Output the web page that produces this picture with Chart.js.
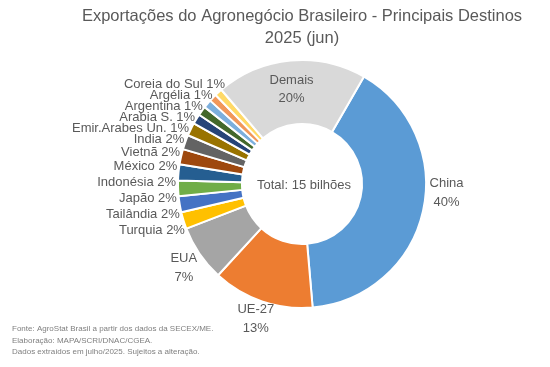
<!DOCTYPE html>
<html>
<head>
<meta charset="utf-8">
<script src="https://cdn.jsdelivr.net/npm/chart.js@4"></script>
<style>
  html, body { margin: 0; padding: 0; background: #fff; }
  #wrap { position: relative; width: 550px; height: 367px; }
</style>
</head>
<body>
<div id="wrap"><canvas id="myChart"></canvas></div>
<script>
// Participação (%) nas exportações, junho/2025
const destinos = ['China', 'UE-27', 'EUA', 'Turquia', 'Tailândia', 'Japão', 'Indonésia', 'México',
  'Vietnã', 'India', 'Emir.Arabes Un.', 'Arabia S.', 'Argentina', 'Argélia', 'Coreia do Sul', 'Demais'];
const participacao = [40.3, 13.2, 7.3, 2.2, 2.1, 2.0, 2.1, 2.0, 1.9, 1.7, 1.3, 1.2, 1.1, 1.0, 1.0, 19.6];
const totalBilhoes = 15;
const titulo = ['Exportações do Agronegócio Brasileiro - Principais Destinos', '2025 (jun)'];
const fonte = [
  'Fonte: AgroStat Brasil a partir dos dados da SECEX/ME.',
  'Elaboração: MAPA/SCRI/DNAC/CGEA.',
  'Dados extraídos em julho/2025. Sujeitos a alteração.'
];

const cores = ['#5B9BD5', '#ED7D31', '#A5A5A5', '#FFC000', '#4472C4', '#70AD47', '#255E91', '#9E480E',
  '#636363', '#997300', '#264478', '#43682B', '#7CAFDD', '#F1975A', '#FFD966', '#D9D9D9'];

const FAMILIA = '"Liberation Sans", Arial, sans-serif';
Chart.defaults.font.family = FAMILIA;

const pct = v => Math.round(v) + '%';

// rotulos das fatias + texto central + nota de fonte
const rotulosPlugin = {
  id: 'rotulos',
  afterDatasetsDraw(chart) {
    const ctx = chart.ctx;
    const arcs = chart.getDatasetMeta(0).data;
    const cx = arcs[0].x, cy = arcs[0].y, R = arcs[0].outerRadius;
    ctx.save();
    ctx.fillStyle = '#595959';
    ctx.font = '13px ' + FAMILIA;
    ctx.textBaseline = 'middle';
    ctx.textAlign = 'center';
    ctx.fillText('Total: ' + totalBilhoes + ' bilhões', cx + 2, cy + 1);

    const pequenos = [];
    arcs.forEach((arc, i) => {
      const mid = (arc.startAngle + arc.endAngle) / 2;
      if (i < 3) {
        const d = R + 19;
        let x = cx + Math.cos(mid) * d;
        let y = cy + Math.sin(mid) * d;
        if (i === 0) { x += 5; y -= 22; } // China: rotulo deslocado para cima
        if (i === 2) { y += 3; }
        ctx.textAlign = 'center';
        ctx.fillText(destinos[i], x, y - 9.5);
        ctx.fillText(pct(participacao[i]), x, y + 9.5);
      } else if (i === arcs.length - 1) {
        const p = arc.tooltipPosition();
        ctx.textAlign = 'center';
        ctx.fillText(destinos[i], p.x - 2, p.y - 12);
        ctx.fillText(pct(participacao[i]), p.x - 2, p.y + 6);
      } else {
        pequenos.push({ i: i, y: cy + Math.sin(mid) * R + 10 });
      }
    });

    // empilha os rotulos pequenos sem sobrepor (de baixo para cima)
    pequenos.sort((a, b) => b.y - a.y);
    for (let k = 1; k < pequenos.length; k++) {
      pequenos[k].y = Math.min(pequenos[k].y, pequenos[k - 1].y - 11);
    }
    ctx.textAlign = 'right';
    pequenos.forEach(p => {
      const r = R + 2;
      const dy = p.y - cy;
      const x = cx - Math.sqrt(Math.max(r * r - dy * dy, 0));
      ctx.fillText(destinos[p.i] + ' ' + pct(participacao[p.i]), x, p.y);
    });

    // nota de fonte
    ctx.fillStyle = '#7F7F7F';
    ctx.font = '8px ' + FAMILIA;
    ctx.textAlign = 'left';
    fonte.forEach((linha, k) => ctx.fillText(linha, 12, 329 + k * 11.3));
    ctx.restore();
  }
};

const ctx = document.getElementById('myChart').getContext('2d');

new Chart(ctx, {
  type: 'doughnut',
  data: {
    labels: destinos,
    datasets: [{
      data: participacao,
      backgroundColor: cores,
      borderColor: '#ffffff',
      borderWidth: 2
    }]
  },
  options: {
    responsive: true,
    maintainAspectRatio: false,
    animation: false,
    rotation: 30,
    radius: 124,
    cutout: '48.4%',
    layout: { padding: { left: 54, right: 0, top: 0, bottom: 59 } },
    plugins: {
      legend: { display: false },
      tooltip: { enabled: false },
      title: {
        display: true,
        text: titulo,
        color: '#595959',
        font: { size: 16.5, weight: 'normal', lineHeight: 1.35 },
        padding: { top: 5, bottom: 10.4 }
      }
    }
  },
  plugins: [rotulosPlugin]
});
</script>
</body>
</html>
